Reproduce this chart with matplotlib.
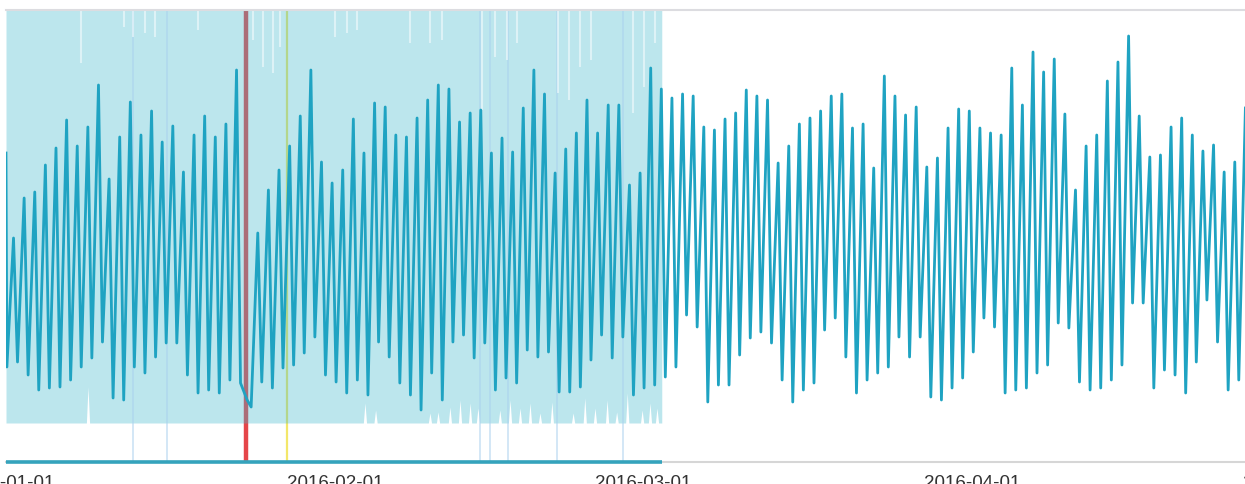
import numpy as np
import pandas as pd
import matplotlib
matplotlib.use('Agg')
import matplotlib.pyplot as plt
import matplotlib.dates as mdates

plt.rcParams['font.family'] = ['Liberation Sans', 'DejaVu Sans']

# --- data (arbitrary units) ---
start = pd.Timestamp('2016-01-01')
first_val = 309

# value at ~02:00 (night low) for each day from 2016-01-01
night_vals = [95, 100, 87, 72, 74, 75, 82, 95, 104, 120,
              64, 62, 95, 89, 105, 119, 119, 87, 69, 72,
              69, 82, 79, 55, 80, 74, 94, 97, 109, 125,
              87, 80, 69, 82, 67, 120, 105, 79, 67, 52,
              89, 62, 120, 127, 104, 119, 72, 84, 79, 112,
              105, 110, 70, 70, 75, 102, 127, 104, 125, 67,
              74, 77, 85, 95, 147, 135, 60, 77, 77, 107,
              124, 130, 119, 82, 60, 72, 79, 132, 144, 105,
              69, 82, 89, 95, 125, 105, 125, 65, 62, 74,
              84, 110, 144, 135, 69, 72, 74, 89, 97, 139,
              134, 80, 72, 74, 82, 97, 159, 159, 74, 92,
              87, 69, 100, 162, 120, 72, 82]

# value at ~17:00 (evening peak) for each day
evening_vals = [224, 264, 270, 297, 314, 342, 316, 335, 377, 283,
                325, 360, 327, 351, 320, 336, 290, 327, 346, 325,
                338, 392, 62, 229, 272, 292, 316, 346, 392, 300,
                279, 292, 343, 309, 359, 355, 327, 325, 344, 362,
                377, 373, 340, 349, 352, 309, 324, 310, 354, 392,
                368, 289, 313, 329, 362, 329, 357, 357, 277, 289,
                394, 373, 364, 368, 366, 335, 332, 343, 349, 372,
                366, 362, 299, 316, 338, 344, 351, 366, 368, 334,
                338, 294, 386, 366, 347, 355, 295, 304, 334, 353,
                351, 334, 329, 327, 394, 357, 410, 390, 403, 348,
                272, 316, 327, 381, 400, 426, 346, 305, 307, 335,
                344, 327, 311, 317, 290, 300, 354]

# shaded band (training window)
band_end = pd.Timestamp('2016-03-02 18:00')
band_floor = 39
notch_days = [7.72, 33.8, 34.8, 39.92, 40.68, 41.8, 42.75, 43.7, 44.44, 46.5,
              47.46, 48.4, 49.34, 50.28, 51.4, 53.4, 54.5, 55.46, 56.6, 57.5,
              58.5, 59.9, 60.64, 61.3]
notch_vals = [75, 59, 52, 49, 50, 55, 62, 59, 54, 52,
              62, 54, 59, 49, 60, 49, 64, 54, 62, 50,
              69, 52, 59, 54]

streak_days = [7.06, 11.1, 11.96, 13.09, 14.03, 18.08, 23.26, 24.2, 25.14, 25.8,
               30.98, 32.1, 33.05, 38.04, 39.92, 41.05, 44.82, 46.05, 47.17, 48.12,
               51.98, 53.01, 54.05, 55.08, 59.04, 60.08, 61.11]
streak_vals = [399, 435, 425, 429, 425, 432, 422, 395, 389, 415,
               425, 429, 432, 419, 419, 422, 352, 405, 402, 419,
               369, 362, 395, 402, 349, 375, 419]

event_days = [11.96, 15.16, 44.63, 45.57, 47.27, 51.88, 58.1]

red_time = pd.Timestamp('2016-01-23 15:30')
yellow_time = pd.Timestamp('2016-01-27 11:00')

tick_dates = ['2016-01-01', '2016-02-01', '2016-03-01', '2016-04-01', '2016-05-01']

# --- build series ---
days = pd.to_timedelta(np.arange(len(night_vals)), unit='D')
night_t = start + days + pd.Timedelta(hours=2)
eve_t = start + days + pd.Timedelta(hours=17)
t = [start]
v = [first_val]
for a, b, va, vb in zip(night_t, eve_t, night_vals, evening_vals):
    t += [a, b]
    v += [va, vb]

band_t = [start]
band_low = [band_floor]
for d, nv in zip(notch_days, notch_vals):
    band_t += [start + pd.Timedelta(days=d - 0.15), start + pd.Timedelta(days=d),
               start + pd.Timedelta(days=d + 0.15)]
    band_low += [band_floor, nv, band_floor]
band_t.append(band_end)
band_low.append(band_floor)

to_time = lambda ds: [start + pd.Timedelta(days=d) for d in ds]

# --- draw ---
fig = plt.figure(figsize=(12.45, 4.84), dpi=100)
ax = fig.add_axes([6 / 1245, 22 / 484, 1239 / 1245, 452 / 484])
x_end = start + pd.Timedelta(days=116.67)
ax.set_xlim(start, x_end)
ax.set_ylim(0, 452)

ax.axvline(red_time, color='#e5464a', lw=3.2, zorder=1)
ax.axvline(yellow_time, color='#f3e76a', lw=1.6, zorder=1)
ax.fill_between(band_t, band_low, 480, color='#40b8ce', alpha=0.35, lw=0, zorder=2)
ax.vlines(to_time(event_days), 0, 452, color='#a9d0ee', lw=1.3, alpha=0.55, zorder=2.2)
ax.vlines(to_time(streak_days), streak_vals, 452, color='white', lw=1.5, alpha=0.5, zorder=2.5)
ax.plot(t, v, color='#1fa3c2', lw=2.0, zorder=3)

for side in ['left', 'right']:
    ax.spines[side].set_visible(False)
ax.spines['top'].set_color('#dcdce0')
ax.spines['top'].set_linewidth(1.5)
ax.spines['bottom'].set_color('#d6d6d6')
ax.spines['bottom'].set_linewidth(1.5)
ax.hlines(0, start, band_end, color='#35a3bc', lw=2.6, zorder=5, clip_on=False)

ticks = [pd.Timestamp(s) for s in tick_dates]
inside = [tk for tk in ticks if tk <= x_end]
ax.set_xticks(inside)
ax.xaxis.set_major_formatter(mdates.DateFormatter('%Y-%m-%d'))
ax.tick_params(axis='x', length=0, pad=9, labelsize=13.5, labelcolor='#333333')
ax.set_yticks([])
for tk in ticks:
    if tk > x_end:
        ax.annotate(tk.strftime('%Y-%m-%d'), xy=(tk, 0), xycoords=('data', 'axes fraction'),
                    xytext=(0, -9), textcoords='offset points', ha='center', va='top',
                    fontsize=13.5, color='#333333', annotation_clip=False)

fig.savefig('out.png', dpi=100)
